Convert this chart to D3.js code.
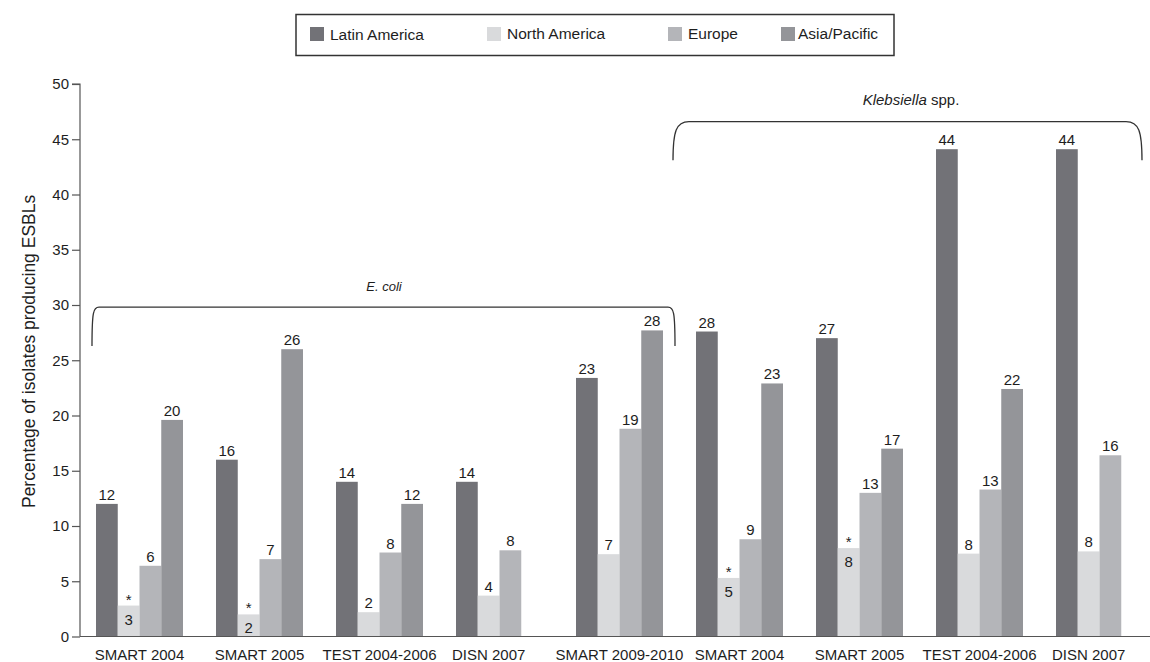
<!DOCTYPE html>
<html lang="en">
  <head>
    <meta charset="utf-8">
    <title>ESBL-producing isolates by region</title>
    <script type="text/javascript" src="https://d3js.org/d3.v7.min.js"></script>
    <style type="text/css">
      body {
        margin: 0;
        background: #ffffff;
      }

      svg {
        font-family: "Liberation Sans", Arial, sans-serif;
      }

      .tick text {
        font-size: 15px;
        fill: #1e1e1e;
      }

      .xlab {
        font-size: 14.5px;
        fill: #1e1e1e;
      }

      .value {
        font-size: 15px;
        fill: #1e1e1e;
        text-anchor: middle;
      }

      .legend text {
        font-size: 15.5px;
        fill: #1e1e1e;
      }

      .brace {
        fill: none;
        stroke: #333333;
        stroke-width: 1.3;
      }
    </style>
  </head>

  <body>
    <script type="text/javascript">

    // data
    const studies = ["SMART 2004", "SMART 2005", "TEST 2004-2006", "DISN 2007", "SMART 2009-2010",
                     "SMART 2004", "SMART 2005", "TEST 2004-2006", "DISN 2007"];
    const regions = ["Latin America", "North America", "Europe", "Asia/Pacific"];
    const latinAmerica = [12.0, 16.0, 14.0, 14.0, 23.4, 27.6, 27.0, 44.1, 44.1];
    const northAmerica = [2.8, 2.0, 2.2, 3.7, 7.45, 5.3, 8.0, 7.5, 7.7];
    const europe       = [6.4, 7.0, 7.6, 7.8, 18.8, 8.8, 13.0, 13.3, 16.4];
    const asiaPacific  = [19.6, 26.0, 12.0, null, 27.7, 22.9, 17.0, 22.4, null];
    const starred = [0, 1, 5, 6]; // North America values flagged with *
    const yTicks = [0, 5, 10, 15, 20, 25, 30, 35, 40, 45, 50];

    const seriesValues = [latinAmerica, northAmerica, europe, asiaPacific];
    const colors = ["#727277", "#d9dadc", "#b4b5b9", "#949599"];

    // layout
    const width = 1150;
    const height = 662;

    const svg = d3.select('body')
      .append('svg')
      .attr('width', width)
      .attr('height', height);

    const x = d3.scaleBand()
      .domain(d3.range(studies.length))
      .range([80, 1160]);

    const inner = d3.scaleBand()
      .domain(regions)
      .range([16, 103]);

    const y = d3.scaleLinear()
      .domain([0, 50])
      .range([636.5, 84]);

    // bars
    const cells = [];
    studies.forEach((s, i) => {
      regions.forEach((r, j) => {
        const v = seriesValues[j][i];
        if (v != null) cells.push({i: i, region: r, j: j, value: v});
      });
    });

    svg.append('g')
      .selectAll('rect')
      .data(cells)
      .enter()
      .append('rect')
      .attr('x', d => x(d.i) + inner(d.region))
      .attr('y', d => y(d.value))
      .attr('width', inner.bandwidth())
      .attr('height', d => y(0) - y(d.value))
      .attr('fill', d => colors[d.j]);

    // value labels
    const isStar = d => d.j == 1 && starred.includes(d.i);

    svg.append('g')
      .selectAll('text')
      .data(cells)
      .enter()
      .append('text')
      .attr('class', 'value')
      .attr('x', d => x(d.i) + inner(d.region) + inner.bandwidth() / 2)
      .attr('y', d => isStar(d) ? y(d.value) + 19 : y(d.value) - 4)
      .text(d => Math.round(d.value));

    svg.append('g')
      .selectAll('text')
      .data(cells.filter(isStar))
      .enter()
      .append('text')
      .attr('class', 'value')
      .attr('x', d => x(d.i) + inner(d.region) + inner.bandwidth() / 2)
      .attr('y', d => y(d.value) - 1)
      .text('*');

    // y axis
    const yAxis = svg.append('g')
      .attr('transform', 'translate(80,0)')
      .call(d3.axisLeft(y).tickValues(yTicks).tickSize(8).tickPadding(3));
    yAxis.selectAll('line, path').attr('stroke', '#555555').attr('stroke-width', 1.2);
    yAxis.select('.domain').attr('d', 'M-8,' + y(50) + 'H0V' + y(0));

    // x axis
    const xAxis = svg.append('g')
      .attr('transform', 'translate(0,' + y(0) + ')')
      .call(d3.axisBottom(x).tickSize(0).tickPadding(0).tickFormat(i => studies[i]));
    xAxis.select('.domain').attr('stroke', '#555555').attr('stroke-width', 1.2)
      .attr('d', 'M80,0H' + width);
    // center labels on the bars that exist
    xAxis.selectAll('.tick text')
      .attr('class', 'xlab')
      .attr('dy', null)
      .attr('y', 23.5)
      .attr('dx', i => {
        const n = seriesValues.filter(s => s[i] != null).length;
        return inner(regions[0]) + inner.step() * n / 2 - x.bandwidth() / 2;
      });

    // y title
    svg.append('text')
      .attr('transform', 'translate(35,' + y(25.8) + ') rotate(-90)')
      .attr('text-anchor', 'middle')
      .style('font-size', '17.5px')
      .style('fill', '#1e1e1e')
      .text('Percentage of isolates producing ESBLs');

    // legend
    const legendX = [310, 487, 668, 781];
    const legend = svg.append('g').attr('class', 'legend');
    legend.append('rect')
      .attr('x', 296).attr('y', 14.5)
      .attr('width', 598).attr('height', 41)
      .attr('fill', 'none')
      .attr('stroke', '#333333')
      .attr('stroke-width', 1.5);
    regions.forEach((r, j) => {
      legend.append('rect')
        .attr('x', legendX[j]).attr('y', 27)
        .attr('width', 14).attr('height', 14)
        .attr('fill', colors[j]);
      legend.append('text')
        .attr('x', legendX[j] + (j == 3 ? 17 : 20))
        .attr('y', j == 0 ? 40 : 38.5)
        .text(r);
    });

    // species braces
    function brace(x0, x1, yTop, yBot, r) {
      return 'M' + x0 + ',' + yBot +
        'C' + x0 + ',' + (yTop + r * 0.6) + ' ' + (x0 + r * 0.2) + ',' + yTop + ' ' + (x0 + r) + ',' + yTop +
        'H' + (x1 - r) +
        'C' + (x1 - r * 0.2) + ',' + yTop + ' ' + x1 + ',' + (yTop + r * 0.6) + ' ' + x1 + ',' + yBot;
    }

    svg.append('path')
      .attr('class', 'brace')
      .attr('d', brace(x(0) + 12, x(4) + 115, y(29.8), y(26.3), 7));

    svg.append('path')
      .attr('class', 'brace')
      .attr('d', brace(x(5) - 7, x(8) + 102, y(46.6), y(43.1), 16));

    svg.append('text')
      .attr('x', 384).attr('y', y(31.3))
      .attr('text-anchor', 'middle')
      .style('font-size', '13px')
      .style('font-style', 'italic')
      .style('fill', '#1e1e1e')
      .text('E. coli');

    const kleb = svg.append('text')
      .attr('x', 911).attr('y', y(48.1))
      .attr('text-anchor', 'middle')
      .style('font-size', '15px')
      .style('fill', '#1e1e1e');
    kleb.append('tspan').style('font-style', 'italic').text('Klebsiella');
    kleb.append('tspan').text(' spp.');

    </script>
  </body>
</html>
